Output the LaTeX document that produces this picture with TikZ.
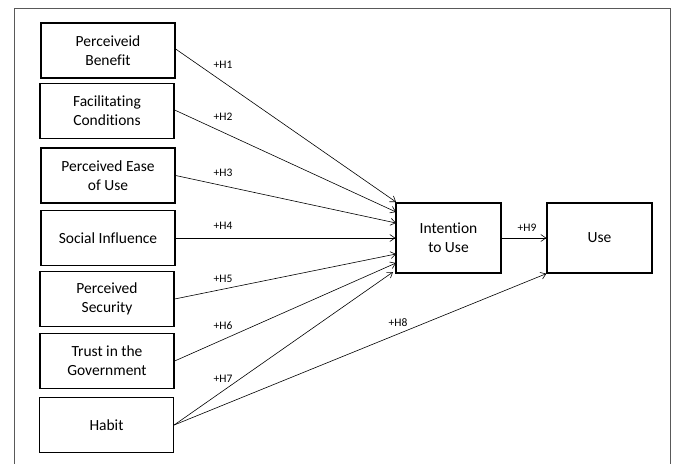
\documentclass[tikz,border=0pt]{standalone}
\usepackage{fontspec}
\setmainfont{Carlito}[Ligatures=NoCommon]
\usetikzlibrary{arrows.meta}
\begin{document}
\begin{tikzpicture}[x=1pt,y=-1pt,
  box/.style={draw,line width=1.3pt,minimum width=134pt,minimum height=55pt,align=center,font=\fontsize{15.5}{19}\selectfont,inner sep=0pt},
  bigbox/.style={draw,line width=1.3pt,minimum width=105pt,minimum height=70pt,align=center,font=\fontsize{15.5}{19}\selectfont,inner sep=0pt},
  conn/.style={line width=0.6pt,-{Straight Barb[length=5pt,width=7pt]}},
  lbl/.style={font=\fontsize{11.5}{13}\selectfont,inner sep=0pt}]
\useasboundingbox (0,0) rectangle (674,463);
\draw[gray!70!black,line width=1pt] (14,470) -- (14,8) -- (670,8) -- (670,470);
\node[box] (b1) at (108,50.5) {Perceiveid\\Benefit};
\node[box] (b2) at (107,111) {Facilitating\\Conditions};
\node[box] (b3) at (108,175.5) {Perceived Ease\\of Use};
\node[box] (b4) at (108,238) {Social Influence};
\node[box] (b5) at (107,299) {Perceived\\Security};
\node[box] (b6) at (107,361) {Trust in the\\Government};
\node[box] (b7) at (106.5,425) {Habit};
\node[bigbox] (int) at (448.5,238) {Intention\\to Use};
\node[bigbox] (use) at (599.5,238) {Use};
\coordinate (e1) at (396,202);
\coordinate (e2) at (396,212);
\coordinate (e3) at (396,223);
\coordinate (e5) at (396,254);
\coordinate (e6) at (396,263);
\coordinate (e7) at (393,272);
\draw[conn] ([yshift=1.5pt]b1.east) -- (e1);
\draw[conn] ([yshift=1pt]b2.east) -- (e2);
\draw[conn] (b3.east) -- (e3);
\draw[conn] (b4.east) -- (int.west);
\draw[conn] (b5.east) -- (e5);
\draw[conn] (b6.east) -- (e6);
\draw[conn] (b7.east) -- (e7);
\draw[conn] (b7.east) -- (use.south west);
\draw[conn] (int.east) -- (use.west);
\node[lbl] (l1) at (223,65) {+H1};
\node[lbl] (l2) at (223,117) {+H2};
\node[lbl] (l3) at (223,173) {+H3};
\node[lbl] (l4) at (223,226) {+H4};
\node[lbl] (l5) at (223,279) {+H5};
\node[lbl] (l6) at (223,326) {+H6};
\node[lbl] (l7) at (223,379) {+H7};
\node[lbl] (l8) at (398,323) {+H8};
\node[lbl] (l9) at (527,228) {+H9};
\end{tikzpicture}
\end{document}
